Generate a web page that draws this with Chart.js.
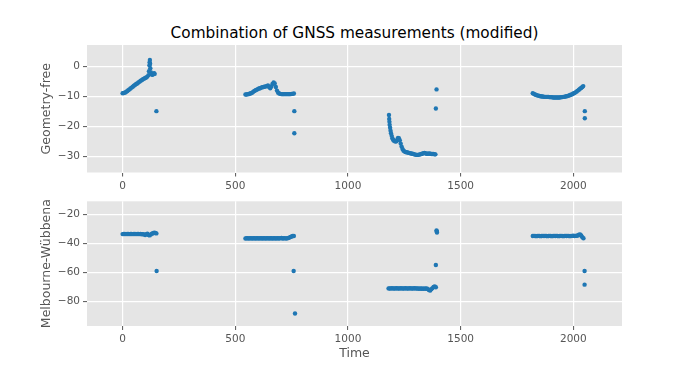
<!DOCTYPE html>
<html>
<head>
<meta charset="utf-8">
<script src="https://cdn.jsdelivr.net/npm/chart.js@4.4.1/dist/chart.umd.min.js"></script>
<style>
  html, body { margin: 0; padding: 0; background: #fff; }
  #wrap { position: relative; width: 690px; height: 367px; overflow: hidden; }
  #title { position: absolute; left: 87px; width: 535px; top: 23px; height: 20px; line-height: 20px;
           text-align: center; font-family: "DejaVu Sans", sans-serif; font-size: 15.3px; color: #000; }
  canvas { position: absolute; left: 0; }
</style>
</head>
<body>
<div id="wrap">
  <div id="title">Combination of GNSS measurements (modified)</div>
  <canvas id="top" width="690" height="192" style="top:0"></canvas>
  <canvas id="bottom" width="690" height="175" style="top:192px"></canvas>
</div>
<script>
// tick labels
var timeTicks = [0, 500, 1000, 1500, 2000];
var gfTicks = [-30, -20, -10, 0];
var mwTicks = [-80, -60, -40, -20];

// Geometry-free combination (four passes + stray epochs)
var gfTime = [
  0,5,10,15,20,25,30,35,40,45, 50,55,60,65,70,75,80,85,90,95,
  100,105,110,115,117,119,120,121,122,123, 125,128,131,134,137,140,142,150,
  545,550,555,560,565,570,575,580,585,590, 595,600,605,610,615,620,625,630,635,640,
  645,650,655,660,665,670,675,680,685,690, 695,700,705,710,715,720,725,730,735,740,
  745,750,755,760,762,762,
  1182,1183,1184,1185,1187,1189,1191,1194,1197,1200, 1205,1210,1215,1219,1222,1226,1230,1234,1238,1242,
  1246,1250,1255,1260,1265,1270,1275,1280,1285,1290, 1295,1300,1305,1310,1315,1320,1325,1330,1335,1340,
  1345,1350,1355,1360,1365,1370,1375,1380,1385,1388, 1390,1393,
  1820,1825,1830,1835,1840,1845,1850,1855,1860,1865, 1870,1875,1880,1885,1890,1895,1900,1905,1910,1915,
  1920,1925,1930,1935,1940,1945,1950,1955,1960,1965, 1970,1975,1980,1985,1990,1995,2000,2005,2010,2015,
  2020,2025,2030,2035,2040,2044,2051,2051
];
var gfValue = [
  -8.9,-8.8,-8.7,-8.5,-8.2,-7.9,-7.6,-7.3,-7.0,-6.7, -6.4,-6.1,-5.8,-5.6,-5.3,-5.0,-4.7,-4.5,-4.2,-4.0,
  -3.8,-3.6,-3.3,-2.8,-1.5,0.5,1.5,2.3,1.0,-0.5, -1.8,-2.4,-2.7,-2.6,-2.3,-2.2,-2.4,-14.9,
  -9.3,-9.3,-9.2,-9.2,-9.0,-8.9,-8.7,-8.4,-8.1,-7.9, -7.7,-7.5,-7.3,-7.2,-7.0,-6.9,-6.8,-6.7,-6.6,-6.5,
  -6.3,-6.8,-7.2,-6.6,-5.8,-5.3,-5.6,-6.8,-8.0,-8.7, -9.0,-9.1,-9.2,-9.2,-9.2,-9.2,-9.2,-9.2,-9.2,-9.2,
  -9.2,-9.1,-9.1,-9.0,-14.9,-22.3,
  -16.2,-17.5,-18.5,-19.5,-20.5,-21.5,-22.3,-23.2,-24.0,-24.5, -24.9,-25.1,-25.0,-24.4,-23.9,-24.0,-24.7,-25.8,-26.8,-27.6,
  -28.1,-28.4,-28.6,-28.7,-28.8,-28.9,-29.0,-29.1,-29.2,-29.3, -29.4,-29.5,-29.6,-29.6,-29.5,-29.4,-29.3,-29.2,-29.0,-28.9,
  -29.1,-29.2,-29.2,-29.1,-29.2,-29.3,-29.3,-29.3,-29.4,-29.4, -14.0,-7.6,
  -8.9,-9.1,-9.3,-9.5,-9.6,-9.7,-9.8,-9.9,-10.0,-10.0, -10.1,-10.1,-10.1,-10.1,-10.1,-10.2,-10.2,-10.2,-10.3,-10.3,
  -10.3,-10.3,-10.3,-10.3,-10.3,-10.2,-10.2,-10.1,-10.1,-10.0, -9.9,-9.8,-9.7,-9.5,-9.4,-9.2,-9.0,-8.8,-8.6,-8.3,
  -8.0,-7.7,-7.4,-7.1,-6.8,-6.5,-14.9,-17.3
];

// Melbourne-Wuebbena combination
var mwTime = [
  0,5,10,15,20,25,30,35,40,45, 50,55,60,65,70,75,80,85,90,95,
  100,105,110,115,120,125,130,135,140,145, 150,151,
  545,550,555,560,565,570,575,580,585,590, 595,600,605,610,615,620,625,630,635,640,
  645,650,655,660,665,670,675,680,685,690, 695,700,705,710,715,720,725,730,735,740,
  745,750,755,760,759,765,
  1180,1185,1190,1195,1200,1205,1210,1215,1220,1225, 1230,1235,1240,1245,1250,1255,1260,1265,1270,1275,
  1280,1285,1290,1295,1300,1305,1310,1315,1320,1325, 1330,1335,1340,1345,1350,1355,1360,1365,1370,1375,
  1380,1385,1390,1390,1393,1394,1395,
  1820,1825,1830,1835,1840,1845,1850,1855,1860,1865, 1870,1875,1880,1885,1890,1895,1900,1905,1910,1915,
  1920,1925,1930,1935,1940,1945,1950,1955,1960,1965, 1970,1975,1980,1985,1990,1995,2000,2005,2010,2015,
  2020,2025,2030,2035,2040,2045,2050,2050
];
var mwValue = [
  -33.6,-33.5,-33.5,-33.6,-33.5,-33.5,-33.6,-33.5,-33.5,-33.6, -33.5,-33.5,-33.6,-33.5,-33.5,-33.6,-33.5,-33.7,-33.6,-33.8,
  -34.3,-33.6,-33.4,-34.2,-34.5,-33.8,-33.3,-33.0,-32.6,-32.8, -33.1,-59.0,
  -36.6,-36.5,-36.5,-36.6,-36.5,-36.5,-36.6,-36.5,-36.5,-36.6, -36.5,-36.5,-36.6,-36.5,-36.5,-36.6,-36.5,-36.5,-36.6,-36.5,
  -36.5,-36.6,-36.5,-36.5,-36.6,-36.5,-36.5,-36.6,-36.5,-36.5, -36.6,-36.4,-36.3,-36.6,-36.5,-36.4,-36.7,-36.5,-36.3,-36.0,
  -35.6,-35.2,-34.9,-34.9,-59.0,-88.3,
  -71.0,-71.1,-71.0,-70.9,-71.0,-71.1,-71.0,-70.9,-71.0,-71.1, -71.0,-70.9,-71.0,-71.1,-71.0,-70.9,-71.0,-71.1,-71.0,-70.9,
  -71.0,-71.1,-71.0,-70.9,-71.0,-71.1,-71.0,-71.2,-71.0,-71.2, -71.1,-71.3,-71.0,-71.2,-71.0,-71.5,-72.2,-72.5,-71.5,-70.8,
  -70.0,-69.6,-70.2,-54.9,-31.0,-31.8,-32.5,
  -34.9,-34.8,-34.9,-35.0,-34.9,-34.8,-34.9,-35.0,-34.9,-34.8, -34.9,-34.8,-34.9,-35.0,-34.9,-34.8,-34.9,-35.0,-34.9,-34.8,
  -34.9,-34.8,-34.9,-35.0,-34.9,-34.8,-34.9,-35.0,-34.9,-34.8, -34.9,-34.8,-34.9,-35.0,-34.9,-34.8,-34.7,-34.9,-34.8,-34.7,
  -34.6,-34.0,-33.8,-34.5,-35.8,-36.5,-59.0,-68.4
];

var textColor = '#555555';
var markerColor = '#1f77b4';
var font = 'DejaVu Sans';

// grey panel behind the plot, like the ggplot style
var panelBackground = {
  id: 'panelBackground',
  beforeDraw: function(chart) {
    var a = chart.chartArea;
    var ctx = chart.ctx;
    ctx.save();
    ctx.fillStyle = '#e5e5e5';
    ctx.fillRect(a.left, a.top, a.right - a.left, a.bottom - a.top);
    ctx.restore();
  }
};

function makeChart(id, xs, ys, yMin, yMax, yTicks, yLabel, padTop, xHeight, showTime) {
  var points = [];
  for (var i = 0; i < xs.length; i++) {
    points.push({ x: xs[i], y: ys[i] });
  }
  var ctx = document.getElementById(id).getContext('2d');
  return new Chart(ctx, {
    type: 'scatter',
    data: {
      datasets: [{
        data: points,
        backgroundColor: markerColor,
        borderWidth: 0,
        pointRadius: 2.2
      }]
    },
    plugins: [panelBackground],
    options: {
      responsive: false,
      animation: false,
      devicePixelRatio: 1,
      layout: { padding: { left: 39, right: 68, top: padTop, bottom: 0 } },
      plugins: { legend: { display: false }, tooltip: { enabled: false } },
      scales: {
        x: {
          type: 'linear',
          min: -158,
          max: 2216,
          afterBuildTicks: function(scale) {
            scale.ticks = timeTicks.map(function(v) { return { value: v }; });
          },
          afterFit: function(scale) { scale.height = xHeight; },
          border: { display: false },
          grid: { color: '#ffffff', lineWidth: 1.2, tickColor: textColor, tickLength: 4, tickWidth: 1 },
          ticks: {
            color: textColor,
            font: { family: font, size: 10.5 },
            padding: 3,
            maxRotation: 0,
            callback: function(v) { return String(v); }
          },
          title: {
            display: showTime,
            text: 'Time',
            color: textColor,
            font: { family: font, size: 12.5 },
            padding: { top: 0, bottom: 6 }
          }
        },
        y: {
          min: yMin,
          max: yMax,
          afterBuildTicks: function(scale) {
            scale.ticks = yTicks.map(function(v) { return { value: v }; });
          },
          afterFit: function(scale) { scale.width = 48; },
          border: { display: false },
          grid: { color: '#ffffff', lineWidth: 1.2, tickColor: textColor, tickLength: 4, tickWidth: 1 },
          ticks: {
            color: textColor,
            font: { family: font, size: 10.5 },
            padding: 3,
            callback: function(v) { return String(v).replace('-', '\u2212'); }
          },
          title: {
            display: true,
            text: yLabel,
            color: textColor,
            font: { family: font, size: 12.5 },
            padding: { top: 0, bottom: 0 }
          }
        }
      }
    }
  });
}

makeChart('top', gfTime, gfValue, -35.5, 7.3, gfTicks, 'Geometry-free', 45, 19.5, false);
makeChart('bottom', mwTime, mwValue, -96.9, -11, mwTicks, 'Melbourne-Wübbena', 7, 41, true);
</script>
</body>
</html>
